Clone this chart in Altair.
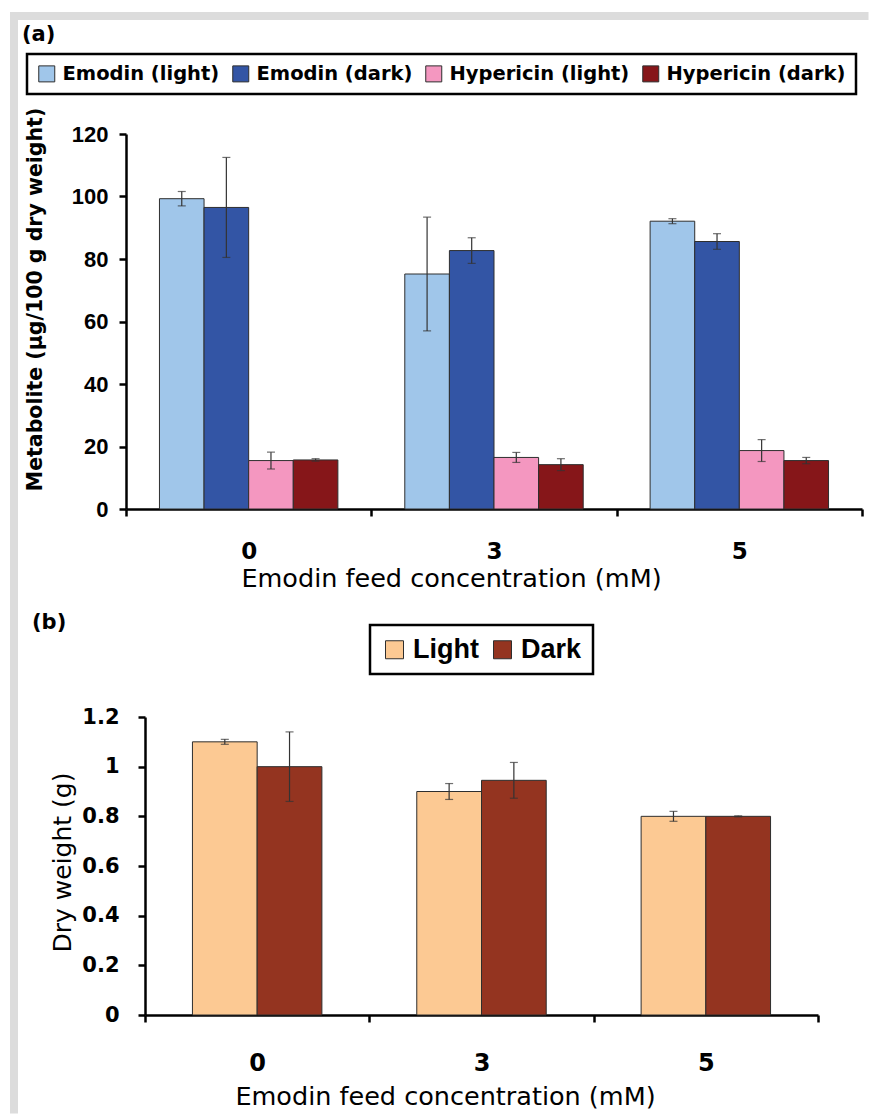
import altair as alt
import pandas as pd

# ---------------------------------------------------------------- data
concentrations = ["0", "3", "5"]

metabolite_names = ["Emodin (light)", "Emodin (dark)", "Hypericin (light)", "Hypericin (dark)"]
metabolite_colors = ["#a0c6ea", "#3355a5", "#f497c0", "#861619"]
emodin_light = [99.3, 75.2, 92.1]
emodin_light_sd = [2.3, 18.2, 0.8]
emodin_dark = [96.5, 82.7, 85.6]
emodin_dark_sd = [16.0, 4.1, 2.5]
hypericin_light = [15.5, 16.5, 18.7]
hypericin_light_sd = [2.7, 1.6, 3.5]
hypericin_dark = [15.7, 14.2, 15.5]
hypericin_dark_sd = [0.4, 1.9, 1.0]

weight_names = ["Light", "Dark"]
weight_colors = ["#fcc993", "#943420"]
dry_weight_light = [1.10, 0.90, 0.80]
dry_weight_light_sd = [0.01, 0.032, 0.02]
dry_weight_dark = [1.00, 0.945, 0.80]
dry_weight_dark_sd = [0.14, 0.072, 0.002]

metabolite_ticks = [0, 20, 40, 60, 80, 100, 120]
weight_ticks = [0, 0.2, 0.4, 0.6, 0.8, 1.0, 1.2]


def long_table(names, values, errors, key):
    rows = []
    for name, vals, errs in zip(names, values, errors):
        for conc, v, e in zip(concentrations, vals, errs):
            rows.append({"conc": conc, key: name, "value": v, "lo": v - e, "hi": v + e})
    return pd.DataFrame(rows)


df_a = long_table(
    metabolite_names,
    [emodin_light, emodin_dark, hypericin_light, hypericin_dark],
    [emodin_light_sd, emodin_dark_sd, hypericin_light_sd, hypericin_dark_sd],
    "series",
)
df_b = long_table(
    weight_names,
    [dry_weight_light, dry_weight_dark],
    [dry_weight_light_sd, dry_weight_dark_sd],
    "cond",
)
one_row = pd.DataFrame({"k": [0]})

SANS = "DejaVu Sans"
ARIAL = "Liberation Sans"
FRAME = "#dcdcdc"
ERR = "#333333"
OUTLINE = "#2e2e2e"

# ---------------------------------------------------------------- panel (a)
W_A, H_A = 736, 375

xa = alt.X(
    "conc:N", sort=concentrations,
    scale=alt.Scale(domain=concentrations, paddingInner=0, paddingOuter=0),
    axis=alt.Axis(title="Emodin feed concentration (mM)", labelAngle=0, tickBand="extent",
                  labelPadding=24, labelFontSize=23, titleFontSize=25.5,
                  titleX=325, titleY=57),
)
xoa = alt.XOffset(
    "series:N", sort=metabolite_names,
    scale=alt.Scale(domain=metabolite_names, paddingInner=0, paddingOuter=0.75),
)
ya_scale = alt.Scale(domain=[0, 120], nice=False)
ya_axis = alt.Axis(values=metabolite_ticks, title="Metabolite (µg/100 g dry weight)",
                   titleFontWeight="bold", titleFontSize=20.5, titleX=-81, titleY=165,
                   labelFont=ARIAL, labelFontSize=22, labelPadding=11)

legend_a = alt.Legend(
    orient="none", legendX=-99, legendY=-80, direction="horizontal",
    symbolType="square", symbolSize=256, symbolStrokeColor=OUTLINE, symbolStrokeWidth=1,
    labelFont=SANS, labelFontSize=19.5, labelFontWeight="bold", labelColor="black",
    labelLimit=400, labelOffset=6, columnPadding=10,
    strokeColor="black", padding=10,
)

bars_a = alt.Chart(df_a).mark_bar(stroke=OUTLINE, strokeWidth=1).encode(
    x=xa, xOffset=xoa,
    y=alt.Y("value:Q", scale=ya_scale, axis=ya_axis),
    color=alt.Color("series:N", title=None,
                    scale=alt.Scale(domain=metabolite_names, range=metabolite_colors),
                    legend=legend_a),
)
err_a = alt.Chart(df_a).mark_rule(color=ERR, strokeWidth=1.2).encode(
    x=xa, xOffset=xoa,
    y=alt.Y("lo:Q", scale=ya_scale, axis=ya_axis), y2="hi:Q",
)
cap_lo_a = alt.Chart(df_a).mark_tick(color=ERR, thickness=1.2, size=8, orient="horizontal").encode(
    x=xa, xOffset=xoa, y=alt.Y("lo:Q", scale=ya_scale, axis=ya_axis),
)
cap_hi_a = alt.Chart(df_a).mark_tick(color=ERR, thickness=1.2, size=8, orient="horizontal").encode(
    x=xa, xOffset=xoa, y=alt.Y("hi:Q", scale=ya_scale, axis=ya_axis),
)

# light-grey page frame (left edge and top edge)
frame_top = alt.Chart(one_row).mark_rect(color=FRAME).encode(
    x=alt.value(-116), x2=alt.value(742.5), y=alt.value(-122), y2=alt.value(-114))
frame_left_a = alt.Chart(one_row).mark_rect(color=FRAME).encode(
    x=alt.value(-116), x2=alt.value(-108), y=alt.value(-122), y2=alt.value(471))
tag_a = alt.Chart(one_row).mark_text(
    text="(a)", font=SANS, fontSize=21, fontWeight="bold", align="left", baseline="middle",
    color="black").encode(x=alt.value(-104), y=alt.value(-99))

panel_a = alt.layer(frame_top, frame_left_a, bars_a, err_a, cap_lo_a, cap_hi_a, tag_a).properties(
    width=W_A, height=H_A)

# ---------------------------------------------------------------- panel (b)
W_B, H_B = 692, 298

xb = alt.X(
    "conc:N", sort=concentrations,
    scale=alt.Scale(domain=concentrations, paddingInner=0, paddingOuter=0, range=[19, 692]),
    axis=alt.Axis(title="Emodin feed concentration (mM)", labelAngle=0, tickBand="extent",
                  labelPadding=29, labelFontSize=24, titleFontSize=25.5,
                  titleX=319, titleY=69),
)
xob = alt.XOffset(
    "cond:N", sort=weight_names,
    scale=alt.Scale(domain=weight_names, paddingInner=0, paddingOuter=0.733),
)
yb_scale = alt.Scale(domain=[0, 1.2], nice=False)
yb_axis = alt.Axis(values=weight_ticks, format="~g", title="Dry weight (g)", offset=-19,
                   titleFontSize=25, titleX=-70, titleY=145, labelFontSize=21, labelPadding=19)

legend_b = alt.Legend(
    orient="none", legendX=244, legendY=-92, direction="horizontal",
    symbolType="square", symbolSize=324, symbolStrokeColor=OUTLINE, symbolStrokeWidth=1,
    labelFont=ARIAL, labelFontSize=27, labelFontWeight="bold", labelColor="black",
    labelLimit=400, labelOffset=5, columnPadding=10,
    strokeColor="black", padding=11,
)

bars_b = alt.Chart(df_b).mark_bar(stroke=OUTLINE, strokeWidth=1).encode(
    x=xb, xOffset=xob,
    y=alt.Y("value:Q", scale=yb_scale, axis=yb_axis),
    color=alt.Color("cond:N", title=None,
                    scale=alt.Scale(domain=weight_names, range=weight_colors),
                    legend=legend_b),
)
err_b = alt.Chart(df_b).mark_rule(color=ERR, strokeWidth=1.2).encode(
    x=xb, xOffset=xob,
    y=alt.Y("lo:Q", scale=yb_scale, axis=yb_axis), y2="hi:Q",
)
cap_lo_b = alt.Chart(df_b).mark_tick(color=ERR, thickness=1.2, size=8, orient="horizontal").encode(
    x=xb, xOffset=xob, y=alt.Y("lo:Q", scale=yb_scale, axis=yb_axis),
)
cap_hi_b = alt.Chart(df_b).mark_tick(color=ERR, thickness=1.2, size=8, orient="horizontal").encode(
    x=xb, xOffset=xob, y=alt.Y("hi:Q", scale=yb_scale, axis=yb_axis),
)

frame_left_b = alt.Chart(one_row).mark_rect(color=FRAME).encode(
    x=alt.value(-116), x2=alt.value(-108), y=alt.value(-112), y2=alt.value(396.5))
tag_b = alt.Chart(one_row).mark_text(
    text="(b)", font=SANS, fontSize=21, fontWeight="bold", align="left", baseline="middle",
    color="black").encode(x=alt.value(-94), y=alt.value(-94))

panel_b = alt.layer(frame_left_b, bars_b, err_b, cap_lo_b, cap_hi_b, tag_b).properties(
    width=W_B, height=H_B)

# ---------------------------------------------------------------- assemble
chart = (
    alt.vconcat(panel_a, panel_b, spacing=0)
    .resolve_scale(x="independent", y="independent", color="independent", xOffset="independent")
    .resolve_legend(color="independent")
    .properties(padding={"left": 10, "top": 12, "right": 0, "bottom": 0}, background="white")
    .configure_view(strokeWidth=0)
    .configure_legend(strokeWidth=2.5)
    .configure_axis(
        grid=False, domainColor="black", domainWidth=2.5, tickColor="black", tickWidth=2.5,
        tickSize=7, labelColor="black", titleColor="black", labelFont=SANS, titleFont=SANS,
        labelFontWeight="bold", titleFontWeight="normal",
    )
)

chart.save("out.html", embed_options={"renderer": "svg", "actions": False})
